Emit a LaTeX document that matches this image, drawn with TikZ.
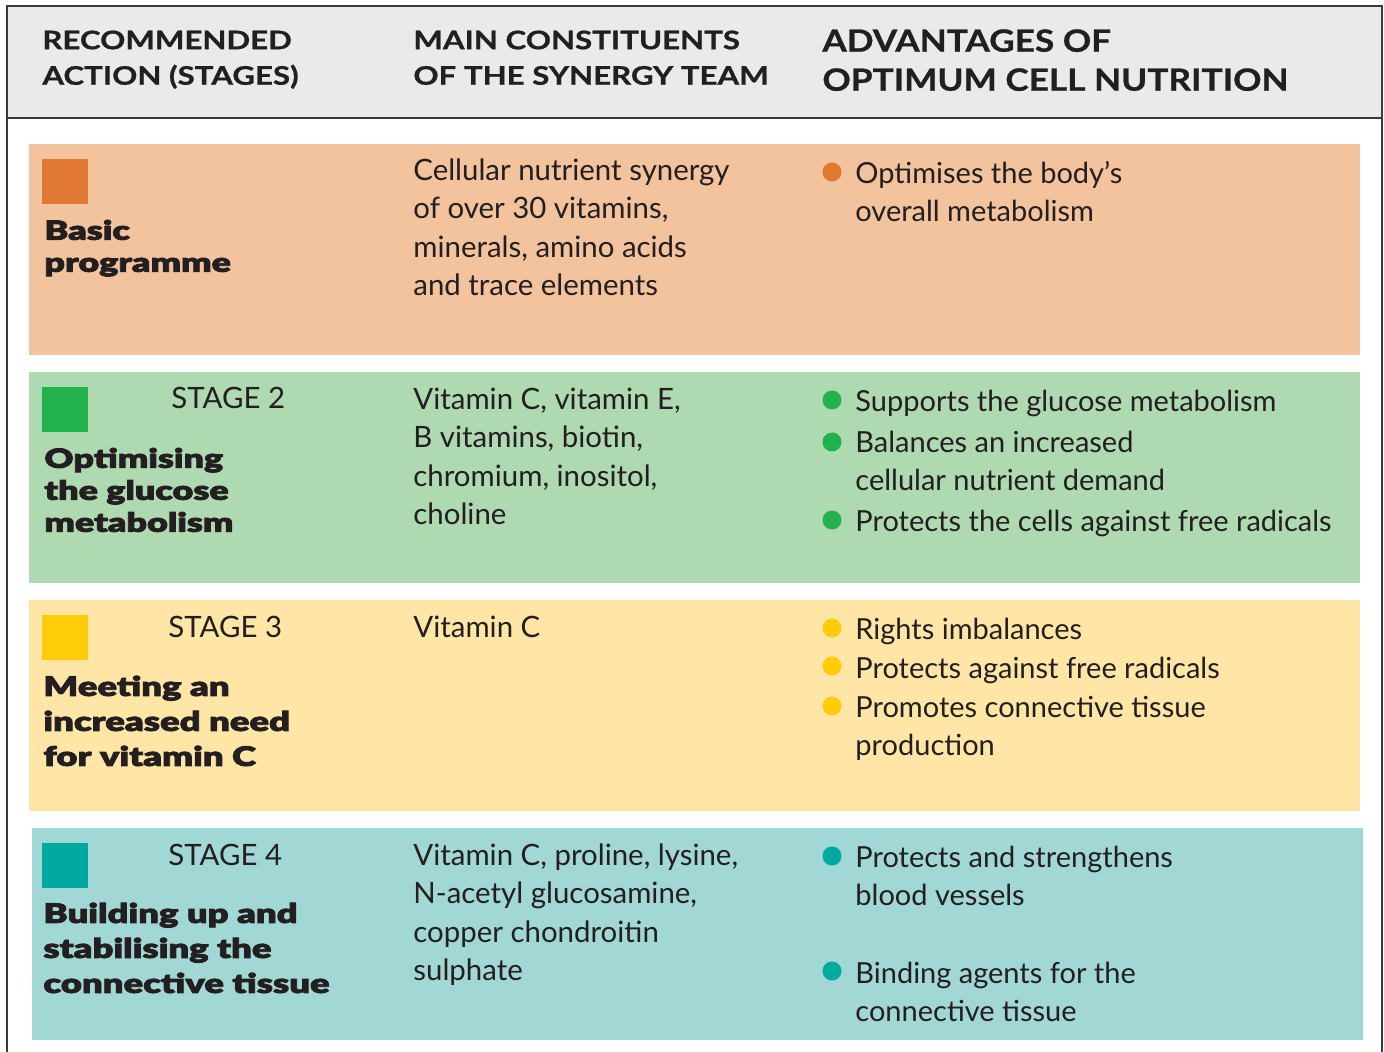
\documentclass[tikz,border=0pt]{standalone}
\usepackage{fontspec}
\setmainfont{Lato}
\newfontfamily\headfont[FakeStretch=1.22,FakeBold=0.8]{Lato}
\newfontfamily\headbigfont[FakeStretch=1.15,FakeBold=0.8]{Lato}
\newfontfamily\stagefont[FakeStretch=1.36,FakeBold=3]{Lato Black}
\usetikzlibrary{positioning}

\definecolor{framegray}{HTML}{3A3A3A}
\definecolor{headgray}{HTML}{EAEAEC}
\definecolor{ink}{HTML}{231F20}
\definecolor{orangelight}{HTML}{F2C39C}
\definecolor{orangedark}{HTML}{E07833}
\definecolor{greenlight}{HTML}{AED9B1}
\definecolor{greendark}{HTML}{22B24C}
\definecolor{yellowlight}{HTML}{FFE5A6}
\definecolor{yellowdark}{HTML}{FFCC0A}
\definecolor{teallight}{HTML}{A1D8D5}
\definecolor{tealdark}{HTML}{00A99D}

\newcommand\headsize{\headfont\bfseries\fontsize{12.8}{17.75}\selectfont}
\newcommand\headbigsize{\headbigfont\bfseries\fontsize{15.3}{19.5}\selectfont}
\newcommand\bodysize{\fontsize{14.7}{19.25}\selectfont}
\newcommand\itemsize{\fontsize{14.5}{18.75}\selectfont}
\newcommand\namesize{\stagefont\fontsize{13.2}{16}\selectfont}
\newcommand\namewidesize{\stagefont\fontsize{13.4}{17.5}\selectfont}

\begin{document}
\begin{tikzpicture}[x=0.5pt,y=-0.5pt,
    txt/.style={anchor=north west,inner sep=0pt,align=left,text=ink},
    head/.style={txt,font=\headsize},
    headbig/.style={txt,font=\headbigsize},
    body/.style={txt,font=\bodysize},
    item/.style={txt,font=\itemsize},
    stagetag/.style={anchor=base west,inner sep=0pt,text=ink,font=\bodysize},
    namebox/.style={txt,font=\namesize},
    namewide/.style={txt,font=\namewidesize},
    dot/.style={circle,inner sep=0pt,minimum size=9.5pt,fill=#1}]
  \useasboundingbox (0,0) rectangle (1384,1052);

  % header band and frame
  \fill[headgray] (7,6) rectangle (1382,118);
  \draw[framegray,line width=1pt] (7,1052) -- (7,6) -- (1382,6) -- (1382,1052);
  \draw[framegray,line width=1pt] (7,118) -- (1382,118);

  \node[head] (hdrA) at (42,24) {\strut RECOMMENDED\\ACTION (STAGES)};
  \node[head] (hdrB) at (413,24) {\strut MAIN CONSTITUENTS\\OF THE SYNERGY TEAM};
  \node[headbig] (hdrC) at (822,24) {\strut ADVANTAGES OF\\OPTIMUM CELL NUTRITION};

  % row bands
  \fill[orangelight] (29,144) rectangle (1360,355);
  \fill[greenlight] (29,372) rectangle (1360,583);
  \fill[yellowlight] (29,600) rectangle (1360,811);
  \fill[teallight] (32,828) rectangle (1363,1040);

  \fill[orangedark] (42,159) rectangle ++(46,45);
  \fill[greendark] (42,387) rectangle ++(46,45);
  \fill[yellowdark] (42,615) rectangle ++(46,45);
  \fill[tealdark] (42,843) rectangle ++(46,45);

  % basic programme
  \node[namebox] (name1) at (44,217) {\strut Basic\\programme};
  \node[body] (cons1) at (413,153) {\strut Cellular nutrient synergy\\of over 30 vitamins,\\minerals, amino acids\\and trace elements};
  \node[dot=orangedark] (b1a) at (832,172) {};
  \node[item] (adv1a) at (855,157) {\strut Optimises the body’s\\overall metabolism};

  % stage 2
  \node[stagetag] (stage2) at (171,409) {STAGE 2};
  \node[namebox] (name2) at (44,445) {\strut Optimising\\the glucose\\metabolism};
  \node[body] (cons2) at (413,382) {\strut Vitamin C, vitamin E,\\B vitamins, biotin,\\chromium, inositol,\\choline};
  \node[dot=greendark] (b2a) at (832,400) {};
  \node[item] (adv2a) at (855,385) {\strut Supports the glucose metabolism};
  \node[dot=greendark] (b2b) at (832,442) {};
  \node[item] (adv2b) at (855,426) {\strut Balances an increased\\cellular nutrient demand};
  \node[dot=greendark] (b2c) at (832,520) {};
  \node[item] (adv2c) at (855,505) {\strut Protects the cells against free radicals};

  % stage 3
  \node[stagetag] (stage3) at (168,637) {STAGE 3};
  \node[namewide] (name3) at (43,671) {\strut Meeting an\\increased need\\for vitamin C};
  \node[body] (cons3) at (413,610) {\strut Vitamin C};
  \node[dot=yellowdark] (b3a) at (832,628) {};
  \node[item] (adv3a) at (855,613) {\strut Rights imbalances};
  \node[dot=yellowdark] (b3b) at (832,666) {};
  \node[item] (adv3b) at (855,652) {\strut Protects against free radicals};
  \node[dot=yellowdark] (b3c) at (832,706) {};
  \node[item] (adv3c) at (855,691) {\strut Promotes connective tissue\\production};

  % stage 4
  \node[stagetag] (stage4) at (168,865) {STAGE 4};
  \node[namewide] (name4) at (43,898) {\strut Building up and\\stabilising the\\connective tissue};
  \node[body] (cons4) at (413,838) {\strut Vitamin C, proline, lysine,\\N-acetyl glucosamine,\\copper chondroitin\\sulphate};
  \node[dot=tealdark] (b4a) at (832,856) {};
  \node[item] (adv4a) at (855,841) {\strut Protects and strengthens\\blood vessels};
  \node[dot=tealdark] (b4b) at (832,971) {};
  \node[item] (adv4b) at (855,957) {\strut Binding agents for the\\connective tissue};
\end{tikzpicture}
\end{document}
